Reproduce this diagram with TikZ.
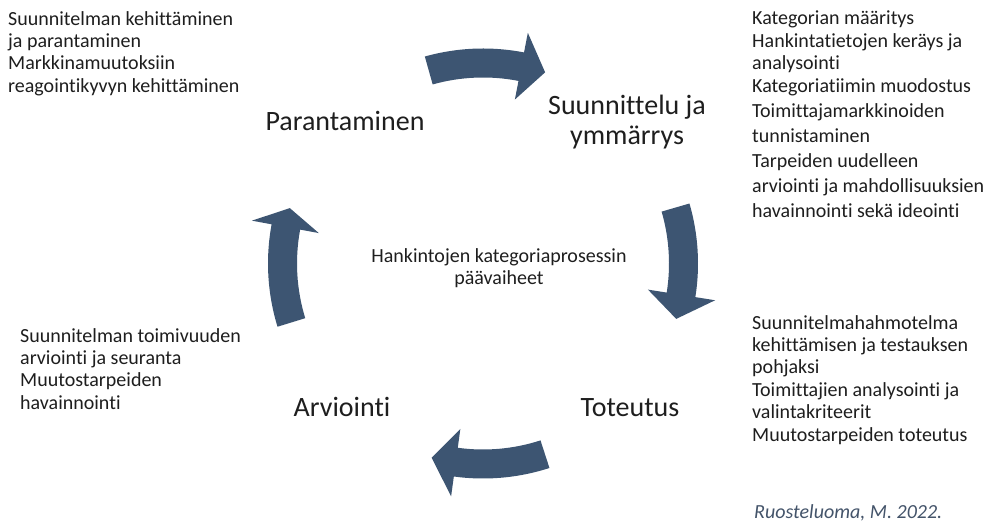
\documentclass[tikz,border=0pt]{standalone}
\usepackage{fontspec}
\setmainfont{Carlito}[Ligatures={NoCommon}]
\usetikzlibrary{calc}

\definecolor{cyclefill}{RGB}{61,85,114}
\definecolor{bodytext}{RGB}{30,30,30}
\definecolor{citetext}{RGB}{68,84,106}

% curved cycle arrow around (C): tail angle, head-base angle, tip angle
\newcommand{\cyclearrow}[3]{%
  \fill[cyclefill] ([shift={(C)}]#1:215pt) arc[start angle=#1, end angle=#2, radius=215pt]
    -- ([shift={(C)}]#2:235pt) -- ([shift={(C)}]#3:201pt) -- ([shift={(C)}]#2:167pt)
    -- ([shift={(C)}]#2:186pt) arc[start angle=#2, end angle=#1, radius=186pt] -- cycle;}

\tikzset{
  bodytxt/.style={font=\fontsize{20}{22.4}\selectfont, text=bodytext, inner sep=0pt, align=left, anchor=north west},
  widetxt/.style={bodytxt, font=\fontsize{20}{25}\selectfont},
  phase/.style={font=\fontsize{28}{30}\selectfont, text=bodytext, inner sep=0pt},
  citation/.style={font=\fontsize{20}{22}\selectfont\itshape, text=citetext, inner sep=0pt, anchor=base west}
}

\begin{document}
\begin{tikzpicture}[x=1pt, y=1pt]
  \fill[white] (0,0) rectangle (992,529);
  \useasboundingbox (0,0) rectangle (992,529);
  \coordinate (C) at (483,265.5);

  % the four cycle arrows
  \cyclearrow{105.7}{79}{72}
  \cyclearrow{16.2}{-9}{-16}
  \cyclearrow{-72}{-97.8}{-104.8}
  \cyclearrow{197.1}{169.5}{164}

  % phase names
  \node[phase, anchor=base] (paran) at (345,398) {Parantaminen};
  \node[phase, anchor=north, align=center] (suun) at (627,434) {Suunnittelu ja\\ymmärrys};
  \node[phase, anchor=base] (toteu) at (630,112) {Toteutus};
  \node[phase, anchor=base] (arvi) at (342,112) {Arviointi};

  % centre title
  \node[bodytxt, anchor=north, align=center] (title) at (499,281)
    {Hankintojen kategoriaprosessin\\päävaiheet};

  % descriptions of each phase
  \node[bodytxt] (descparan) at (8,518)
    {Suunnitelman kehittäminen\\ja parantaminen\\Markkinamuutoksiin\\reagointikyvyn kehittäminen};
  \node[bodytxt] (descsuun) at (752,518)
    {Kategorian määritys\\Hankintatietojen keräys ja\\analysointi\\Kategoriatiimin muodostus};
  \node[widetxt] (descsuunb) at (752,426)
    {Toimittajamarkkinoiden\\tunnistaminen\\Tarpeiden uudelleen\\arviointi ja mahdollisuuksien\\havainnointi sekä ideointi};
  \node[bodytxt] (desctoteu) at (752,214)
    {Suunnitelmahahmotelma\\kehittämisen ja testauksen\\pohjaksi\\Toimittajien analysointi ja\\valintakriteerit\\Muutostarpeiden toteutus};
  \node[bodytxt] (descarvi) at (20,201)
    {Suunnitelman toimivuuden\\arviointi ja seuranta\\Muutostarpeiden\\havainnointi};

  % source
  \node[citation] (source) at (754,10) {Ruosteluoma, M. 2022.};
\end{tikzpicture}
\end{document}
